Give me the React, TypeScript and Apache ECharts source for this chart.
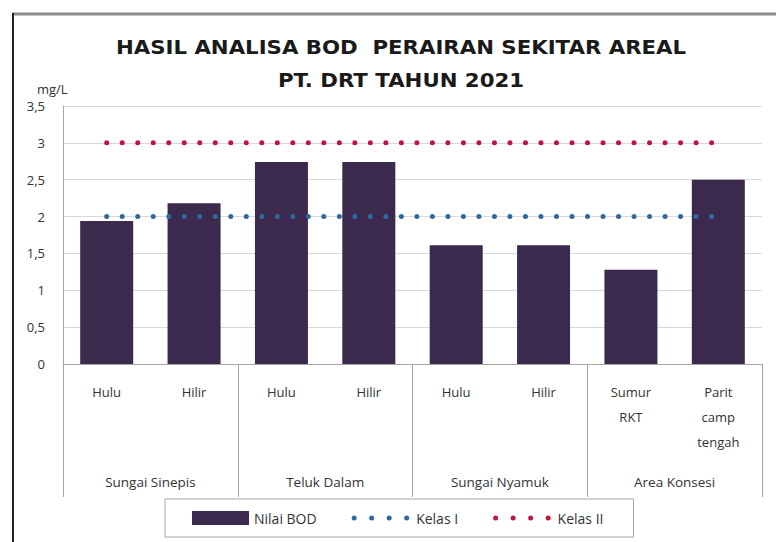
import React, { useEffect, useRef } from "react";
import * as echarts from "echarts";

const titleLines = ["HASIL ANALISA BOD  PERAIRAN SEKITAR AREAL", "PT. DRT TAHUN 2021"];
const yUnit = "mg/L";
const stations = ["Hulu", "Hilir", "Hulu", "Hilir", "Hulu", "Hilir", "Sumur\nRKT", "Parit\ncamp\ntengah"];
const groups = ["Sungai Sinepis", "Teluk Dalam", "Sungai Nyamuk", "Area Konsesi"];
const nilaiBOD = [1.94, 2.18, 2.74, 2.74, 1.61, 1.61, 1.28, 2.5];
const kelasI = [2, 2, 2, 2, 2, 2, 2, 2];
const kelasII = [3, 3, 3, 3, 3, 3, 3, 3];
const seriesNames = ["Nilai BOD", "Kelas I", "Kelas II"];

const FONT = "Open Sans";
const BAR = "#3b2a4e";
const BLUE = "#2f6a9e";
const RED = "#c0143c";

export default function App() {
  const ref = useRef<HTMLDivElement>(null);
  useEffect(() => {
    if (!ref.current) return;
    const chart = echarts.init(ref.current, null, { renderer: "svg" });
    const dotted = (color: string, gap: number) => ({
      color,
      width: 5,
      type: [0.01, gap],
      cap: "round",
    });
    chart.setOption({
      animation: false,
      backgroundColor: "#ffffff",
      textStyle: { fontFamily: FONT },
      grid: { left: 63, right: 14, top: 106, bottom: 178, containLabel: false },
      legend: {
        bottom: 5,
        left: 165,
        itemWidth: 57,
        itemHeight: 14,
        itemGap: 35,
        padding: [12, 30, 12, 27],
        borderColor: "#a6a6a6",
        borderWidth: 1,
        textStyle: { fontFamily: FONT, fontSize: 14, color: "#333" },
        data: [
          { name: seriesNames[0], icon: "rect" },
          { name: seriesNames[1], lineStyle: dotted(BLUE, 17.5), itemStyle: { opacity: 0 } },
          { name: seriesNames[2], lineStyle: dotted(RED, 17.5), itemStyle: { opacity: 0 } },
        ],
      },
      graphic: [
        { type: "line", shape: { x1: 12, y1: 14, x2: 776, y2: 14 }, style: { stroke: "#8c8c8c", lineWidth: 3 } },
        { type: "line", shape: { x1: 13, y1: 13, x2: 13, y2: 542 }, style: { stroke: "#222", lineWidth: 2 } },
        {
          type: "text",
          x: 401,
          y: 31,
          scaleX: 1.12,
          style: {
            text: titleLines.join("\n"),
            fontFamily: "DejaVu Sans",
            fontWeight: "bold",
            fontSize: 19,
            lineHeight: 33,
            fill: "#1a1a1a",
            align: "center",
            verticalAlign: "top",
          },
        },
        {
          type: "text",
          x: 37,
          y: 89,
          style: { text: yUnit, fontFamily: FONT, fontSize: 13, fill: "#333", verticalAlign: "middle" },
        },
      ],
      xAxis: [
        {
          type: "category",
          data: stations,
          position: "bottom",
          axisLine: { show: true, lineStyle: { color: "#a6a6a6" } },
          axisTick: { show: false },
          axisLabel: {
            interval: 0,
            margin: 15,
            fontFamily: FONT,
            fontSize: 13,
            lineHeight: 25,
            color: "#333",
          },
        },
        {
          type: "category",
          data: groups,
          position: "bottom",
          axisLine: { show: false },
          axisTick: { show: true, length: 133, lineStyle: { color: "#a6a6a6" } },
          axisLabel: {
            interval: 0,
            margin: 111,
            fontFamily: FONT,
            fontSize: 13.5,
            color: "#333",
          },
        },
      ],
      yAxis: {
        type: "value",
        min: 0,
        max: 3.5,
        interval: 0.5,
        axisLine: { show: true, lineStyle: { color: "#a6a6a6" } },
        axisTick: { show: false },
        splitLine: { lineStyle: { color: "#d9d9d9" } },
        axisLabel: {
          margin: 18,
          fontFamily: FONT,
          fontSize: 13,
          color: "#333",
          formatter: (v: number) => String(v).replace(".", ","),
        },
      },
      series: [
        {
          name: seriesNames[0],
          type: "bar",
          data: nilaiBOD,
          barWidth: 53,
          itemStyle: { color: BAR },
        },
        {
          name: seriesNames[1],
          type: "line",
          data: kelasI,
          symbol: "none",
          itemStyle: { color: BLUE },
          lineStyle: dotted(BLUE, 15.5),
          z: 3,
        },
        {
          name: seriesNames[2],
          type: "line",
          data: kelasII,
          symbol: "none",
          itemStyle: { color: RED },
          lineStyle: dotted(RED, 15.5),
          z: 3,
        },
      ],
    });
    return () => chart.dispose();
  }, []);
  return (
    <div
      ref={ref}
      style={{ position: "fixed", left: 0, top: 0, width: 776, height: 542 }}
    />
  );
}
